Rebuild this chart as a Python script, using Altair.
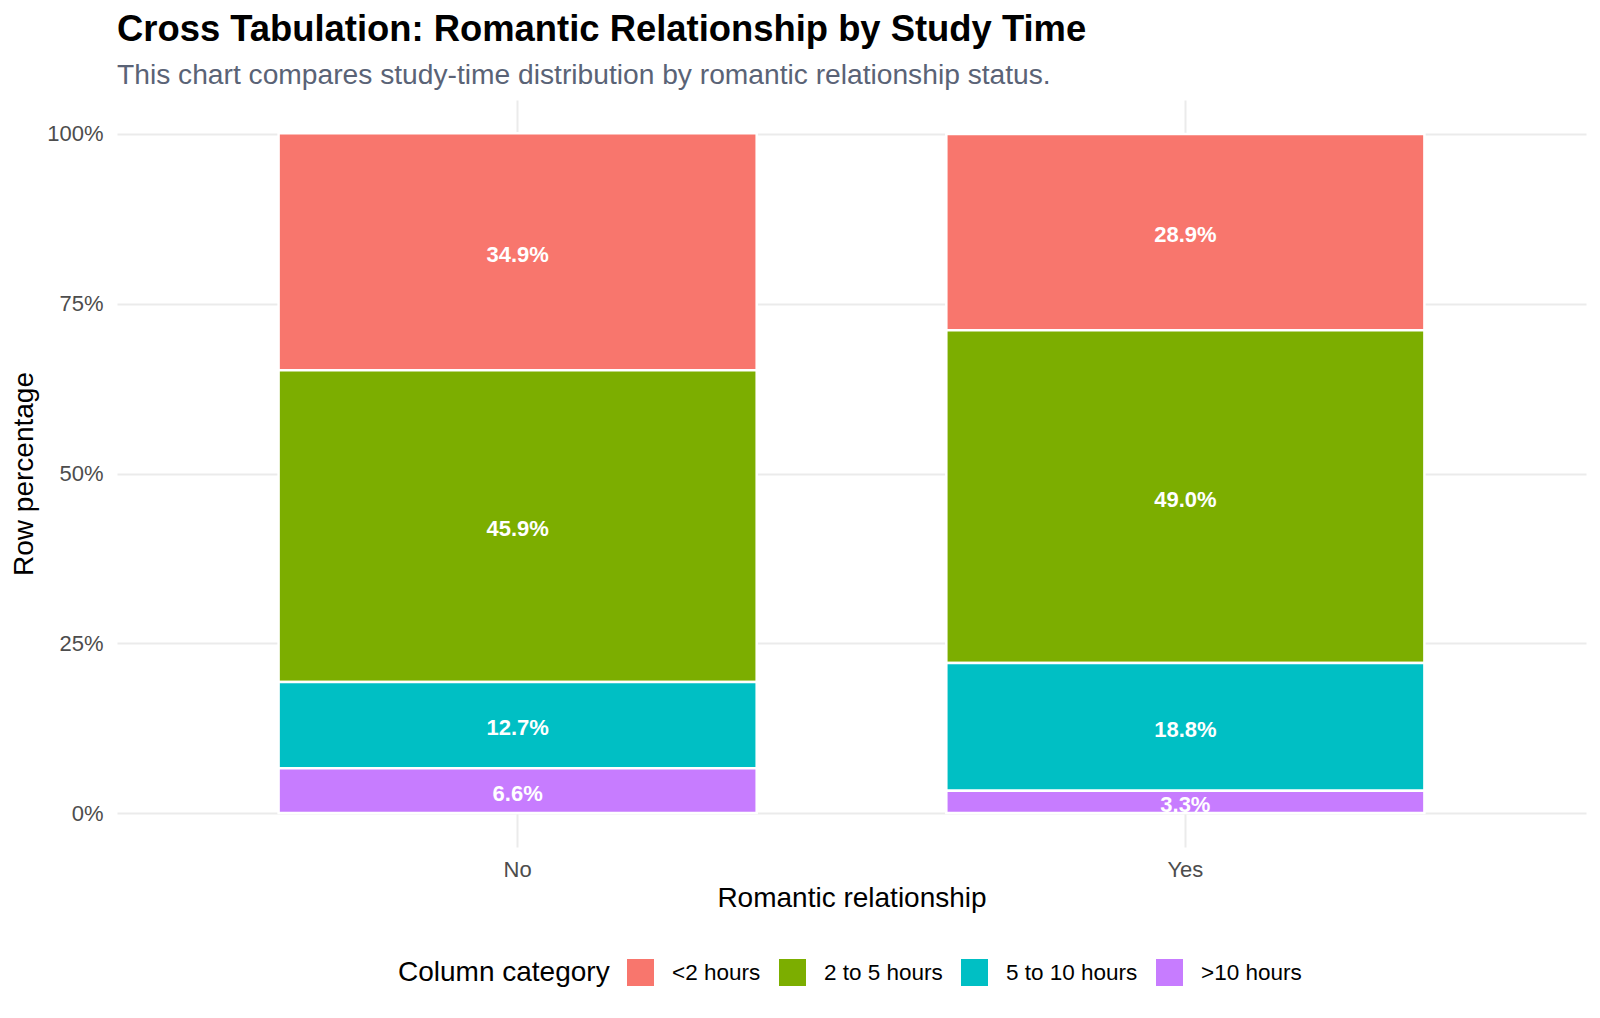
import altair as alt
import pandas as pd

relationships = ["No", "Yes"]
categories = ["<2 hours", "2 to 5 hours", "5 to 10 hours", ">10 hours"]
no_pct = [34.9, 45.9, 12.7, 6.6]
yes_pct = [28.9, 49.0, 18.8, 3.3]
colors = ["#F8766D", "#7CAE00", "#00BFC4", "#C77CFF"]
y_ticks = [0, 25, 50, 75, 100]

FONT = "Liberation Sans"

rows = []
for rel, vals in zip(relationships, [no_pct, yes_pct]):
    for i, (cat, v) in enumerate(zip(categories, vals)):
        rows.append({"rel": rel, "cat": cat, "ord": i, "pct": v})
df = pd.DataFrame(rows)

base = alt.Chart(df).transform_stack(
    stack="pct",
    groupby=["rel"],
    as_=["y0", "y1"],
    sort=[alt.SortField("ord", order="descending")],
).transform_calculate(
    ymid="(datum.y0 + datum.y1) / 2",
    label="format(datum.pct, '.1f') + '%'",
)

xscale = alt.Scale(domain=relationships, paddingInner=0.284, paddingOuter=0.242)
yscale = alt.Scale(domain=[-5, 105], nice=False, zero=False)

x_enc = alt.X(
    "rel:N",
    scale=xscale,
    title="Romantic relationship",
    axis=alt.Axis(
        labelAngle=0, bandPosition=0.5, ticks=False, domain=False,
        grid=True, gridColor="#EBEBEB", gridWidth=2,
        labelFontSize=22, labelColor="#4D4D4D", labelFont=FONT, labelPadding=12,
        titleFontSize=28, titleFontWeight="normal", titleColor="black",
        titleFont=FONT, titlePadding=4,
    ),
)

bars = base.mark_bar(stroke="white", strokeWidth=2.5).encode(
    x=x_enc,
    y=alt.Y(
        "y1:Q",
        scale=yscale,
        title="Row percentage",
        axis=alt.Axis(
            values=y_ticks, labelExpr="datum.value + '%'",
            ticks=False, domain=False, grid=True, gridColor="#EBEBEB", gridWidth=2,
            labelFontSize=22, labelColor="#4D4D4D", labelFont=FONT, labelPadding=14,
            titleFontSize=28, titleFontWeight="normal", titleColor="black",
            titleFont=FONT, titlePadding=8,
        ),
    ),
    y2="y0:Q",
    color=alt.Color(
        "cat:N",
        scale=alt.Scale(domain=categories, range=colors),
        legend=alt.Legend(
            title="Column category", orient="none", legendX=281, legendY=859,
            direction="horizontal", columns=4, titleOrient="left",
            titleAnchor="middle", titleBaseline="middle", titleLimit=600,
            symbolType="square", symbolSize=729, symbolStrokeWidth=0,
            labelFontSize=22.5, labelFont=FONT, labelColor="black", labelOffset=18,
            labelLimit=400,
            columnPadding=18, titleFontSize=28, titleFont=FONT,
            titleFontWeight="normal", titleColor="black", titlePadding=17,
        ),
    ),
)

text = base.mark_text(
    color="white", fontWeight="bold", fontSize=22, font=FONT, baseline="middle", dy=3
).encode(
    x=alt.X("rel:N", scale=xscale),
    y=alt.Y("ymid:Q", scale=yscale),
    text="label:N",
)

chart = alt.layer(bars, text).properties(
    width=1469,
    height=747,
    autosize=alt.AutoSizeParams(type="none"),
    padding={"left": 117, "top": 100, "right": 14, "bottom": 171},
    title=alt.TitleParams(
        text="Cross Tabulation: Romantic Relationship by Study Time",
        subtitle="This chart compares study-time distribution by romantic relationship status.",
        anchor="start", frame="group", font=FONT, fontSize=36.4, fontWeight="bold",
        color="black", subtitleFont=FONT, subtitleFontSize=28.2,
        subtitleColor="#5A6376", offset=11, subtitlePadding=13,
    ),
).configure_view(stroke="transparent")

chart.save("out.html", embed_options={"renderer": "svg", "actions": False})
